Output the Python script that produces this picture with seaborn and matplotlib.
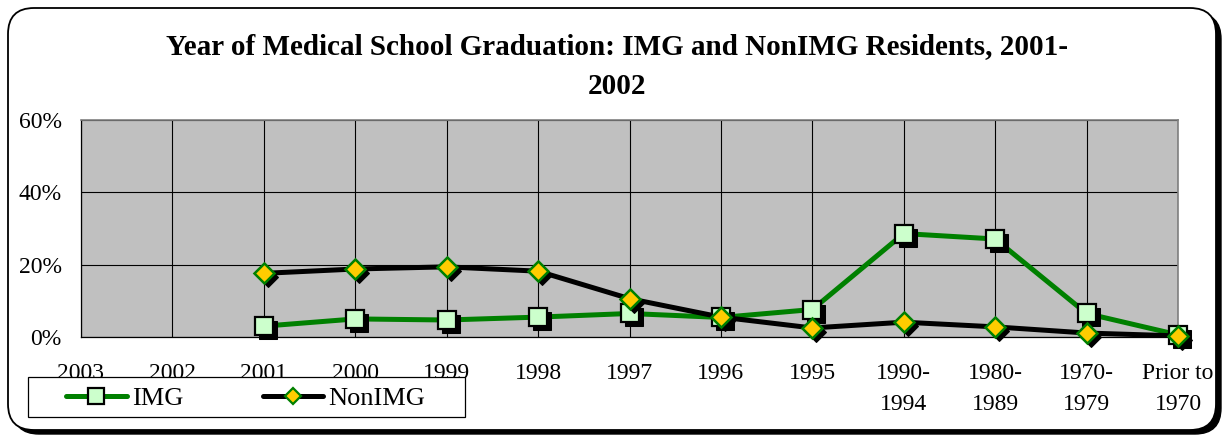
import numpy as np
import pandas as pd
import seaborn as sns
import matplotlib
matplotlib.use("Agg")
import matplotlib.pyplot as plt
from matplotlib.patches import FancyBboxPatch, Rectangle
from matplotlib.lines import Line2D
from matplotlib.transforms import offset_copy

categories = ["2003", "2002", "2001", "2000", "1999", "1998", "1997", "1996",
              "1995", "1990-\n1994", "1980-\n1989", "1970-\n1979", "Prior to\n1970"]
img = [np.nan, np.nan, 3.0, 5.0, 4.7, 5.5, 6.5, 5.4, 7.6, 28.6, 27.1, 6.5, 0.6]
nonimg = [np.nan, np.nan, 17.6, 18.8, 19.4, 18.2, 10.6, 5.5, 2.5, 4.1, 2.8, 1.1, 0.3]
yticks = [0, 20, 40, 60]
title1 = "Year of Medical School Graduation: IMG and NonIMG Residents, 2001-"
title2 = "2002"

sns.set_style("white")
plt.rcParams["font.family"] = ["Liberation Serif", "DejaVu Serif"]
plt.rcParams["text.color"] = "black"

W, H = 1230, 441
fig = plt.figure(figsize=(W / 100, H / 100), dpi=100)

# background frame
bg = fig.add_axes([0, 0, 1, 1], zorder=0)
bg.set_xlim(0, W)
bg.set_ylim(H, 0)
bg.axis("off")
bg.add_patch(FancyBboxPatch((13, 13), 1208, 421, boxstyle="round,pad=0,rounding_size=26",
                            fc="black", ec="black", lw=1))
bg.add_patch(FancyBboxPatch((8, 8), 1208, 422, boxstyle="round,pad=0,rounding_size=26",
                            fc="white", ec="black", lw=1.3))

ax = fig.add_axes([81 / W, 1 - 337 / H, (1178 - 81) / W, (337 - 120) / H], zorder=1)
ax.set_facecolor("#C0C0C0")

x = np.arange(len(categories))
df = pd.DataFrame({"x": x, "IMG": img, "NonIMG": nonimg})
d_img = df.dropna(subset=["IMG"])
d_non = df.dropna(subset=["NonIMG"])

sh = offset_copy(ax.transData, fig=fig, x=4, y=-4, units="dots")
GREEN = "#008000"

sns.lineplot(data=d_img, x="x", y="IMG", ax=ax, color=GREEN, lw=3.6, zorder=2)
sns.lineplot(data=d_non, x="x", y="NonIMG", ax=ax, color="black", lw=3.6, zorder=2.1)
sns.lineplot(data=d_img, x="x", y="IMG", ax=ax, color="black", lw=0, marker="s",
             markersize=13.5, mfc="black", mec="black", transform=sh, zorder=3,
             clip_on=False)
sns.lineplot(data=d_img, x="x", y="IMG", ax=ax, color="black", lw=0, marker="s",
             markersize=13.5, mfc="#CCFFCC", mec="black", mew=1.6, zorder=4,
             clip_on=False)
sns.lineplot(data=d_non, x="x", y="NonIMG", ax=ax, color="black", lw=0, marker="D",
             markersize=10, mfc="black", mec="black", transform=sh, zorder=5,
             clip_on=False)
sns.lineplot(data=d_non, x="x", y="NonIMG", ax=ax, color="black", lw=0, marker="D",
             markersize=10, mfc="#FFCC00", mec=GREEN, mew=1.8, zorder=6,
             clip_on=False)

ax.set_xlim(0, len(categories) - 1)
ax.set_ylim(0, 60)
ax.set_xticks(x)
ax.set_xticklabels(categories, fontsize=17, linespacing=1.6)
ax.set_yticks(yticks)
ax.set_yticklabels([f"{v}%" for v in yticks], fontsize=17)
ax.set_xlabel("")
ax.set_ylabel("")
ax.grid(True, color="black", lw=0.8)
ax.set_axisbelow(True)
ax.tick_params(axis="x", direction="out", length=5, width=0.8, color="black", pad=14)
ax.tick_params(axis="y", direction="out", length=6, width=0.8, color="black", pad=8)
for s in ["top", "right"]:
    ax.spines[s].set_color("#808080")
    ax.spines[s].set_linewidth(1.2)
for s in ["left", "bottom"]:
    ax.spines[s].set_color("black")
    ax.spines[s].set_linewidth(0.9)
for lab in ax.get_yticklabels() + ax.get_xticklabels():
    lab.set_color("black")
if ax.get_legend():
    ax.get_legend().remove()

# legend frame overlay (covers tick labels like the original)
ov = fig.add_axes([0, 0, 1, 1], zorder=5)
ov.set_xlim(0, W)
ov.set_ylim(H, 0)
ov.axis("off")
ov.patch.set_alpha(0)
ov.add_patch(Rectangle((28, 377), 437, 40, fc="white", ec="black", lw=0.9))

h_img = Line2D([], [], color=GREEN, lw=3.6, marker="s", markersize=11,
               mfc="#CCFFCC", mec="black", mew=1.6)
h_non = Line2D([], [], color="black", lw=3.6, marker="D", markersize=8,
               mfc="#FFCC00", mec=GREEN, mew=1.6)
leg = fig.legend([h_img, h_non], ["IMG", "NonIMG"], loc="center left",
                 bbox_to_anchor=(66 / W, 1 - 398 / H), ncol=2, fontsize=19,
                 frameon=False, handlelength=2.3, handletextpad=0.2, borderpad=0,
                 borderaxespad=0, columnspacing=3.0)
leg.set_zorder(10)

fig.text(617 / W, 1 - 47 / H, title1, ha="center", va="center", fontsize=21,
         fontweight="bold", color="black")
fig.text(617 / W, 1 - 87 / H, title2, ha="center", va="center", fontsize=21,
         fontweight="bold", color="black")

fig.savefig("out.png", dpi=100)
